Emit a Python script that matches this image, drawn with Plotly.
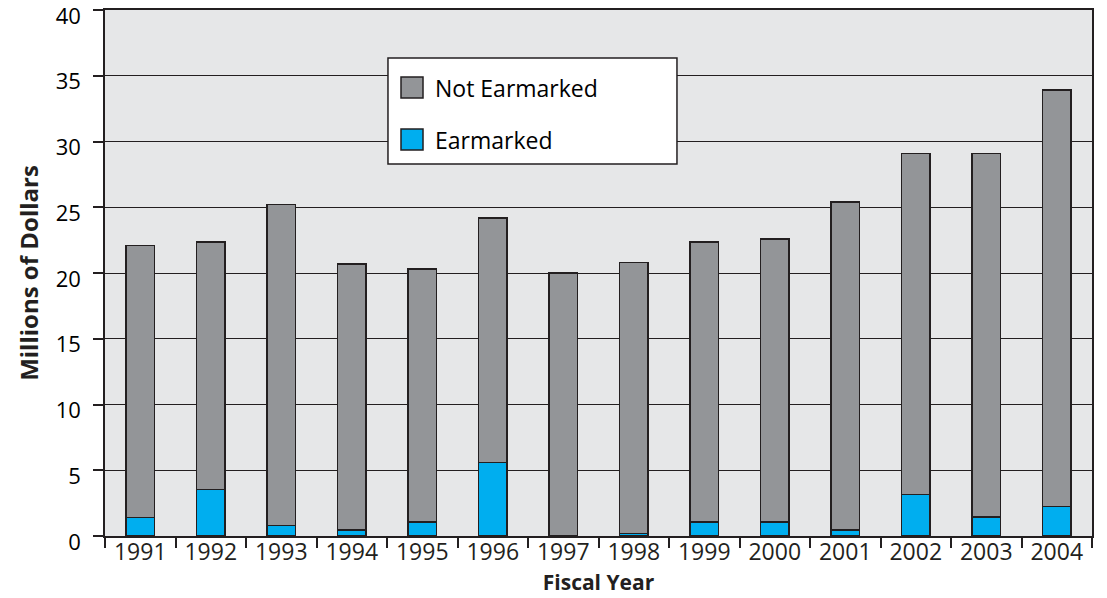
import plotly.graph_objects as go

years = ["1991", "1992", "1993", "1994", "1995", "1996", "1997",
         "1998", "1999", "2000", "2001", "2002", "2003", "2004"]
earmarked = [1.4, 3.55, 0.8, 0.45, 1.05, 5.6, 0.0,
             0.2, 1.05, 1.05, 0.45, 3.15, 1.45, 2.25]
not_earmarked = [20.7, 18.8, 24.4, 20.25, 19.25, 18.6, 20.0,
                 20.6, 21.3, 21.55, 24.95, 25.95, 27.65, 31.65]
series_names = ["Not Earmarked", "Earmarked"]
y_ticks = [0, 5, 10, 15, 20, 25, 30, 35, 40]

GRAY = "#939598"
BLUE = "#00aeef"
INK = "#231f20"
FONT = "Open Sans"

fig = go.Figure()
fig.add_trace(go.Bar(x=years, y=earmarked, name=series_names[1],
                     marker=dict(color=BLUE, line=dict(color=INK, width=1.5))))
fig.add_trace(go.Bar(x=years, y=not_earmarked, name=series_names[0],
                     marker=dict(color=GRAY, line=dict(color=INK, width=1.5))))

# legend drawn by hand so the swatches can be as large as in the original
fig.add_shape(type="rect", xref="paper", yref="paper", x0=0.2867, x1=0.5795,
              y0=0.7072, y1=0.9087, fillcolor="white", line=dict(color=INK, width=1.5))
for name, color, y0, y1, yc in [(series_names[0], GRAY, 0.8327, 0.8726, 0.8517),
                                (series_names[1], BLUE, 0.7338, 0.7738, 0.7529)]:
    fig.add_shape(type="rect", xref="paper", yref="paper", x0=0.2999, x1=0.3222,
                  y0=y0, y1=y1, fillcolor=color, line=dict(color=INK, width=1.5))
    fig.add_annotation(xref="paper", yref="paper", x=0.3323, y=yc, text=name,
                       showarrow=False, xanchor="left", yanchor="middle",
                       font=dict(size=23, color="black", family=FONT))

fig.update_layout(
    width=1107, height=598,
    barmode="stack", bargap=0.59,
    showlegend=False,
    plot_bgcolor="#e6e7e8", paper_bgcolor="white",
    margin=dict(l=105, r=15, t=10, b=62),
    font=dict(family=FONT, color=INK),
)
fig.update_xaxes(
    type="category", tickson="boundaries", ticks="outside", ticklen=10,
    tickcolor=INK, tickwidth=1.5, showline=True, linecolor=INK, linewidth=2,
    mirror=True, automargin=False, ticklabelstandoff=-6,
    tickfont=dict(size=23, color=INK),
    title=dict(text="<b>Fiscal Year</b>", font=dict(size=21, color=INK), standoff=10),
)
fig.update_yaxes(
    range=[0, 40], tickvals=y_ticks, ticks="outside", ticklen=10, tickcolor=INK,
    tickwidth=1.5, showgrid=True, gridcolor=INK, gridwidth=1.2, zeroline=False,
    showline=True, linecolor=INK, linewidth=1.5, mirror=True, automargin=False,
    ticklabelstandoff=8, ticklabelshift=6, ticklabeloverflow="allow",
    tickfont=dict(size=22, color="black"),
    title=dict(text="<b>Millions of Dollars</b>", font=dict(size=24, color=INK), standoff=10),
)

# the page body has an 8px margin by default; drop it so the figure sits at 0,0
fig.write_html("out.html", config={"displayModeBar": False},
               post_script="document.body.style.margin='0';")
